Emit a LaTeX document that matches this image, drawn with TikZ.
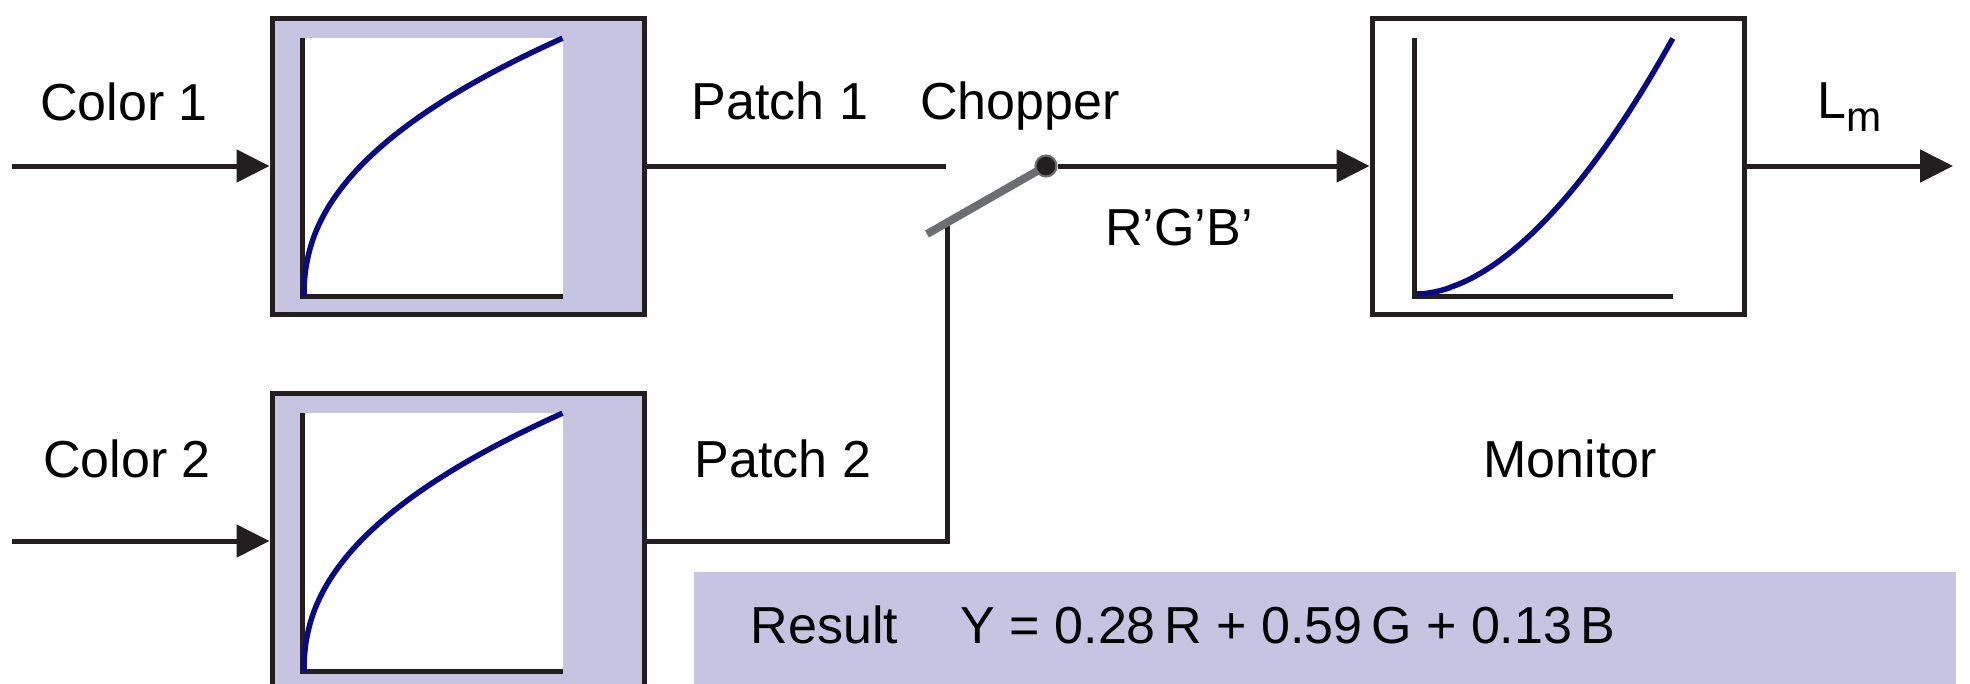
\documentclass[tikz,border=0pt]{standalone}
\usepackage{fontspec}
\setmainfont{Liberation Sans}
\usepackage{tikz}
\usetikzlibrary{arrows.meta,positioning,calc}
\definecolor{ink}{HTML}{231F20}
\definecolor{lav}{HTML}{C6C4E1}
\definecolor{navy}{HTML}{0A0A85}
\definecolor{lever}{HTML}{6D6E71}

\begin{document}
\begin{tikzpicture}[x=0.1mm,y=-0.1mm,font=\fontsize{14.8}{17}\selectfont,
      blk/.style={draw=ink,line width=0.5mm,minimum width=37.2mm,
                  minimum height=29.6mm,inner sep=0pt},
      wire/.style={ink,line width=0.5mm},
      arr/.style={wire,-{Triangle[length=3.3mm,width=3.2mm]}},
      ax/.style={ink,line width=0.5mm},
      crv/.style={navy,line width=0.55mm},
      lbl/.style={anchor=base,inner sep=0pt},
      hinge/.style={circle,fill=ink,draw=lever,line width=0.6pt,
                    minimum size=2.1mm,inner sep=0pt}]
    \useasboundingbox (0,0) rectangle (1970,683);
    % transfer blocks and monitor
    \node[blk,fill=lav] (cam1) at (458,166) {};
    \node[blk,fill=lav] (cam2) at (458,541) {};
    \node[blk,fill=white] (mon) at (1558,166) {};
    \foreach \n in {cam1,cam2}{
      \begin{scope}[shift={(\n.center)}]
        \fill[white] (-156,-128) rectangle (105,130);
        \draw[ax] (-156,-128) |- (105,130);
        \draw[crv] (-154,130) -- plot[domain=0.001:1,samples=90]
          ({-154+259*\x^2.22},{130-258*\x});
      \end{scope}}
    \begin{scope}[shift={(mon.center)}]
      \draw[ax] (-144,-128) |- (115,130);
      \draw[crv] (-141,128) -- plot[domain=0.001:1,samples=90]
        ({-141+256*\x},{128-256*\x^1.8});
    \end{scope}
    % result panel
    \node[fill=lav,minimum width=126.2mm,minimum height=11.8mm,inner sep=0pt]
      (res) at (1325,631) {};
    \node[lbl,anchor=base west] (reslbl) at (750,643) {Result};
    \node[lbl,anchor=base west] (eq) at (960,643)
      {Y = 0.28\,R + 0.59\,G + 0.13\,B};
    % inputs
    \coordinate (in1) at (12,166);
    \coordinate (in2) at (12,541);
    \draw[arr] (in1) -- (cam1.west);
    \draw[arr] (in2) -- (cam2.west);
    % chopper
    \coordinate (p1end) at (946,166);
    \coordinate (p2end) at (947,222);
    \coordinate (pv) at (1046,166);
    \coordinate (lv) at (927,234);
    \draw[wire] (cam1.east) -- (p1end);
    \draw[wire] (cam2.east) -| (p2end);
    \draw[lever,line width=0.8mm] (pv) -- (lv);
    \node[hinge] (piv) at (pv) {};
    \draw[arr] (piv) -- (piv -| mon.west);
    \coordinate (out) at (1953,166);
    \draw[arr] (mon.east) -- (out);
    % labels
    \node[lbl] (c1lbl) at (124,120) {Color 1};
    \node[lbl] (c2lbl) at (127,477) {Color 2};
    \node[lbl] (p1lbl) at (780,119) {Patch 1};
    \node[lbl] (p2lbl) at (783,477) {Patch 2};
    \node[lbl] (chlbl) at (1020,119) {Chopper};
    \node[lbl] (rgblbl) at (1179,245) {R'G'B'};
    \node[lbl] (monlbl) at (1570,477) {Monitor};
    \node[lbl,anchor=base west] (lmlbl) at (1817,118)
      {L\raisebox{-3.7pt}{\fontsize{12}{12}\selectfont m}};
  \end{tikzpicture}
\end{document}
